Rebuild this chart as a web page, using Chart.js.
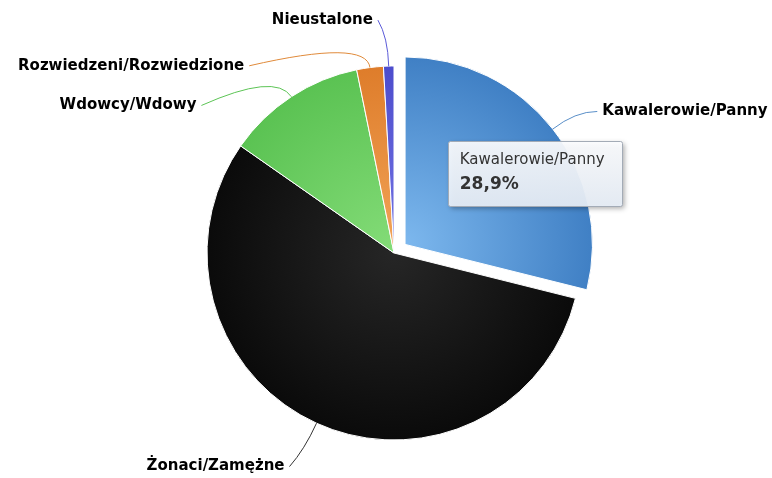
<!DOCTYPE html>
<html lang="pl">
<head>
<meta charset="utf-8">
<title>Stan cywilny</title>
<script src="https://cdn.jsdelivr.net/npm/chart.js@4.4.0/dist/chart.umd.min.js"></script>
<style>
  html, body { margin: 0; padding: 0; background: #fff; }
  #wrap { width: 772px; height: 478px; position: relative; }
</style>
</head>
<body>
<div id="wrap"><canvas id="chart-marital"></canvas></div>
<script>
/* ── Data ── */
const LABELS = ['Kawalerowie/Panny', 'Żonaci/Zamężne', 'Wdowcy/Wdowy', 'Rozwiedzeni/Rozwiedzione', 'Nieustalone'];
const VALUES = [28.9, 55.8, 12.1, 2.3, 0.9];

/* ── Slice colours: [inner, outer] of the radial gradient ── */
const SLICE_COLORS = [
  ['#7db8ee', '#3f7fc4'],
  ['#262626', '#0a0a0a'],
  ['#84dc78', '#5ac252'],
  ['#f2a458', '#de7c2a'],
  ['#7474e4', '#4c4ccc'],
];
const LINE_COLORS = ['#5a8fc8', '#333333', '#5cc455', '#e08a3a', '#5a5ad8'];

/* ── Label nudges (gap from natural point to text, vertical shift) ── */
const LABEL_NUDGE = [[27, 0], [20, 17], [79, 33], [122, 27], [15, -17]];

const fmt = v => String(v).replace('.', ',') + '%';

/* ── Radial gradient per slice ── */
function sliceFill(c) {
  const chart = c.chart;
  const area = chart.chartArea;
  const pair = SLICE_COLORS[c.dataIndex] || ['#999', '#666'];
  if (!area) return pair[1];
  const cx = (area.left + area.right) / 2;
  const cy = (area.top + area.bottom) / 2;
  const g = chart.ctx.createRadialGradient(cx, cy, 0, cx, cy, 190);
  g.addColorStop(0, pair[0]);
  g.addColorStop(1, pair[1]);
  return g;
}

/* ── Outside labels with curved connectors ── */
const sliceLabels = {
  id: 'sliceLabels',
  afterDatasetsDraw(chart, args, opts) {
    const ctx = chart.ctx;
    const meta = chart.getDatasetMeta(0);
    ctx.save();
    ctx.font = opts.font;
    ctx.textBaseline = 'middle';
    meta.data.forEach((arc, i) => {
      const p = arc.getProps(['x', 'y', 'startAngle', 'endAngle', 'outerRadius'], true);
      const mid = (p.startAngle + p.endAngle) / 2;
      const shift = (arc.options.offset || 0) / 4;
      const cx = p.x + Math.cos(mid) * shift;
      const cy = p.y + Math.sin(mid) * shift;
      const cos = Math.cos(mid), sin = Math.sin(mid);
      const edge = { x: cx + cos * p.outerRadius, y: cy + sin * p.outerRadius };
      const R = p.outerRadius + opts.distance;
      const nat = { x: cx + cos * R, y: cy + sin * R };
      const right = cos >= 0;
      const [gap, dy] = LABEL_NUDGE[i] || [10, 0];
      const tx = nat.x + (right ? gap : -gap);
      const ty = nat.y + dy;
      const ex = tx + (right ? -5 : 5);

      ctx.beginPath();
      ctx.moveTo(edge.x, edge.y);
      ctx.quadraticCurveTo(nat.x, nat.y, ex, ty);
      ctx.strokeStyle = LINE_COLORS[i];
      ctx.lineWidth = 1;
      ctx.stroke();

      ctx.fillStyle = '#000';
      ctx.textAlign = right ? 'left' : 'right';
      ctx.fillText(LABELS[i], tx, ty);
    });
    ctx.restore();
  },
};

/* ── Tooltip box with shadow + soft gradient ── */
const tooltipBox = {
  id: 'tooltipBox',
  beforeTooltipDraw(chart, args) {
    const tt = args.tooltip;
    if (!tt.opacity) return;
    const ctx = chart.ctx;
    const x = Math.round(tt.x) + 0.5, y = Math.round(tt.y) + 0.5;
    const w = Math.round(tt.width), h = Math.round(tt.height);
    ctx.save();
    ctx.shadowColor = 'rgba(0,0,0,0.35)';
    ctx.shadowBlur = 5;
    ctx.shadowOffsetX = 2;
    ctx.shadowOffsetY = 2;
    const g = ctx.createLinearGradient(0, y, 0, y + h);
    g.addColorStop(0, 'rgba(252,253,255,0.93)');
    g.addColorStop(1, 'rgba(232,239,248,0.93)');
    ctx.fillStyle = g;
    ctx.beginPath();
    ctx.roundRect(x, y, w, h, 2);
    ctx.fill();
    ctx.shadowColor = 'transparent';
    ctx.strokeStyle = '#a3abb6';
    ctx.lineWidth = 1;
    ctx.stroke();
    ctx.restore();
  },
};

Chart.Tooltip.positioners.sliceSpot = function (items) {
  if (!items.length) return false;
  const pos = items[0].element.tooltipPosition(true);
  return { x: pos.x - 42, y: pos.y - 5 };
};

const canvas = document.getElementById('chart-marital');
const chart = new Chart(canvas, {
  type: 'pie',
  data: {
    labels: LABELS,
    datasets: [{
      data: VALUES,
      backgroundColor: sliceFill,
      borderColor: '#ffffff',
      borderWidth: 1,
      offset: [56, 0, 0, 0, 0],
      hoverOffset: 0,
    }],
  },
  options: {
    responsive: true,
    maintainAspectRatio: false,
    animation: false,
    radius: 187,
    layout: { padding: { left: 16, top: 28, right: 0, bottom: 0 } },
    events: [],
    plugins: {
      legend: { display: false },
      sliceLabels: {
        distance: 29,
        font: 'bold 15px "DejaVu Sans", Verdana, sans-serif',
      },
      tooltip: {
        enabled: true,
        animation: false,
        position: 'sliceSpot',
        xAlign: 'left',
        yAlign: 'center',
        caretSize: 0,
        caretPadding: 0,
        displayColors: false,
        backgroundColor: 'rgba(0,0,0,0)',
        borderWidth: 0,
        padding: { left: 12, right: 17, top: 11, bottom: 11 },
        titleColor: '#333333',
        titleFont: { family: '"DejaVu Sans", sans-serif', size: 15, weight: 'normal' },
        titleMarginBottom: 5,
        bodyColor: '#333333',
        bodyFont: { family: '"DejaVu Sans", sans-serif', size: 17, weight: 'bold' },
        callbacks: {
          title: items => items[0].label,
          label: item => fmt(item.raw),
        },
      },
    },
  },
  plugins: [sliceLabels, tooltipBox],
});

chart.tooltip.setActiveElements([{ datasetIndex: 0, index: 0 }], { x: 0, y: 0 });
chart.update();
</script>
</body>
</html>
